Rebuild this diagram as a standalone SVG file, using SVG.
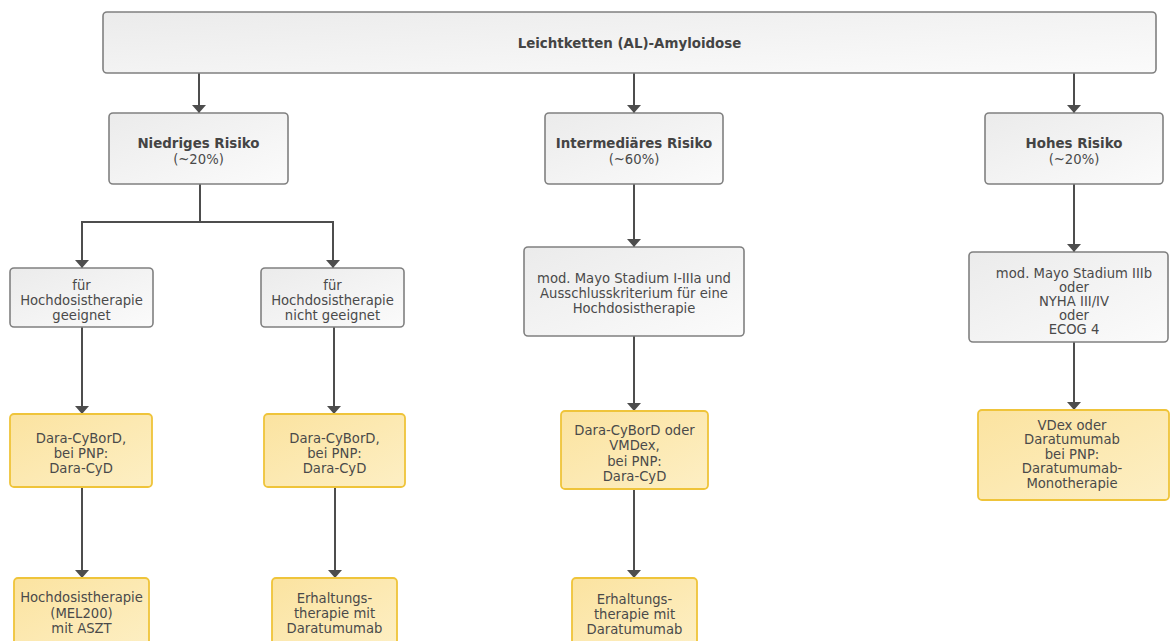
<svg xmlns="http://www.w3.org/2000/svg" width="1170" height="641" viewBox="0 0 1170 641">
<style>
.g{fill:url(#gg);stroke:#808080;stroke-width:1.6}
.y{fill:url(#gy);stroke:#efc43a;stroke-width:1.8}
text{font-family:"DejaVu Sans",Verdana,sans-serif;font-size:13.2px;fill:#4a4a4a;text-anchor:middle}
.b{font-weight:bold;fill:#444;font-size:13.4px}
.c{fill:none;stroke:#4d4d4d;stroke-width:2}
</style>
<defs>
<linearGradient id="gg" x1="0" y1="0" x2="1" y2="1"><stop offset="0" stop-color="#ebebeb"/><stop offset="1" stop-color="#fbfbfb"/></linearGradient>
<linearGradient id="gy" x1="0" y1="0" x2="1" y2="1"><stop offset="0" stop-color="#fbe3a0"/><stop offset="1" stop-color="#fdefc4"/></linearGradient>
<marker id="ah" viewBox="0 0 8 14" refX="8" refY="7" markerWidth="8" markerHeight="14" markerUnits="userSpaceOnUse" orient="auto"><path d="M0,0 L8,7 L0,14 z" fill="#4d4d4d"/></marker>
</defs>
<g id="connectors">
<path class="c" d="M199 73V113" marker-end="url(#ah)"/>
<path class="c" d="M634 73V113" marker-end="url(#ah)"/>
<path class="c" d="M1074 73V113" marker-end="url(#ah)"/>
<path class="c" d="M200 184V222H82V268" marker-end="url(#ah)"/>
<path class="c" d="M200 222H333V268" marker-end="url(#ah)"/>
<path class="c" d="M82 327V414" marker-end="url(#ah)"/>
<path class="c" d="M334 327V414" marker-end="url(#ah)"/>
<path class="c" d="M82 487V578" marker-end="url(#ah)"/>
<path class="c" d="M335 487V578" marker-end="url(#ah)"/>
<path class="c" d="M634 184V247" marker-end="url(#ah)"/>
<path class="c" d="M634 336V411" marker-end="url(#ah)"/>
<path class="c" d="M634 489V578" marker-end="url(#ah)"/>
<path class="c" d="M1074 184V252" marker-end="url(#ah)"/>
<path class="c" d="M1074 342V410" marker-end="url(#ah)"/>
</g>
<g id="top"><rect class="g" x="103" y="12" width="1053" height="61" rx="4"/><text class="b" x="629.5" y="48">Leichtketten (AL)-Amyloidose</text></g>
<g id="niedrig"><rect class="g" x="109" y="113" width="179" height="71" rx="4"/><text class="b" x="198.5" y="148">Niedriges Risiko</text><text x="198.5" y="164">(~20%)</text></g>
<g id="intermed"><rect class="g" x="545" y="113" width="178" height="71" rx="4"/><text class="b" x="634" y="148">Intermediäres Risiko</text><text x="634" y="164">(~60%)</text></g>
<g id="hoch"><rect class="g" x="985" y="113" width="178" height="71" rx="4"/><text class="b" x="1074" y="148">Hohes Risiko</text><text x="1074" y="164">(~20%)</text></g>
<g id="geeignet"><rect class="g" x="10" y="268" width="143" height="59" rx="4"/><text x="81.5" y="290">für</text><text x="81.5" y="305">Hochdosistherapie</text><text x="81.5" y="320">geeignet</text></g>
<g id="nichtgeeignet"><rect class="g" x="261" y="268" width="143" height="59" rx="4"/><text x="332.5" y="290">für</text><text x="332.5" y="305">Hochdosistherapie</text><text x="332.5" y="320">nicht geeignet</text></g>
<g id="mayo1"><rect class="g" x="524" y="247" width="220" height="89" rx="4"/><text x="634" y="283">mod. Mayo Stadium I-IIIa und</text><text x="634" y="298">Ausschlusskriterium für eine</text><text x="634" y="313">Hochdosistherapie</text></g>
<g id="mayo3"><rect class="g" x="969" y="252" width="199" height="90" rx="4"/><text x="1074" y="278">mod. Mayo Stadium IIIb</text><text x="1074" y="292">oder</text><text x="1074" y="306">NYHA III/IV</text><text x="1074" y="320">oder</text><text x="1074" y="334">ECOG 4</text></g>
<g id="dara1"><rect class="y" x="10" y="414" width="142" height="73" rx="4"/><text x="81" y="443">Dara-CyBorD,</text><text x="81" y="458">bei PNP:</text><text x="81" y="473">Dara-CyD</text></g>
<g id="dara2"><rect class="y" x="264" y="414" width="141" height="73" rx="4"/><text x="334.5" y="443">Dara-CyBorD,</text><text x="334.5" y="458">bei PNP:</text><text x="334.5" y="473">Dara-CyD</text></g>
<g id="dara3"><rect class="y" x="561" y="411" width="147" height="78" rx="4"/><text x="634.5" y="435">Dara-CyBorD oder</text><text x="634.5" y="450">VMDex,</text><text x="634.5" y="466">bei PNP:</text><text x="634.5" y="481">Dara-CyD</text></g>
<g id="vdex"><rect class="y" x="978" y="410" width="191" height="90" rx="4"/><text x="1072" y="430">VDex oder</text><text x="1072" y="444">Daratumumab</text><text x="1072" y="459">bei PNP:</text><text x="1072" y="473">Daratumumab-</text><text x="1072" y="488">Monotherapie</text></g>
<g id="hdt"><rect class="y" x="14" y="578" width="135" height="72" rx="4"/><text x="81.5" y="602">Hochdosistherapie</text><text x="81.5" y="618">(MEL200)</text><text x="81.5" y="633">mit ASZT</text></g>
<g id="erh1"><rect class="y" x="272" y="578" width="125" height="72" rx="4"/><text x="334.5" y="603">Erhaltungs-</text><text x="334.5" y="618">therapie mit</text><text x="334.5" y="633">Daratumumab</text></g>
<g id="erh2"><rect class="y" x="572" y="578" width="125" height="72" rx="4"/><text x="634.5" y="604">Erhaltungs-</text><text x="634.5" y="619">therapie mit</text><text x="634.5" y="634">Daratumumab</text></g>
</svg>
